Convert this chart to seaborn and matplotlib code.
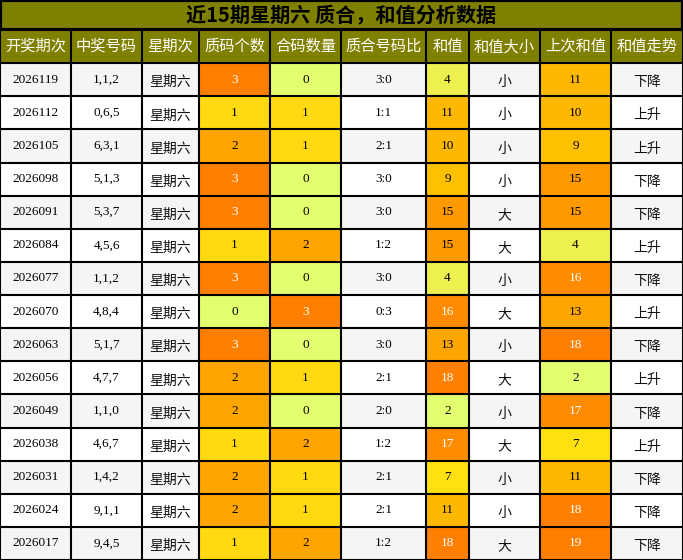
import numpy as np
import matplotlib
matplotlib.use("Agg")
import matplotlib.pyplot as plt
from matplotlib.colors import ListedColormap
import seaborn as sns

title = "近15期星期六 质合，和值分析数据"
headers = ["开奖期次", "中奖号码", "星期次", "质码个数", "合码数量", "质合号码比", "和值", "和值大小", "上次和值", "和值走势"]
periods = ["2026119", "2026112", "2026105", "2026098", "2026091", "2026084", "2026077", "2026070",
           "2026063", "2026056", "2026049", "2026038", "2026031", "2026024", "2026017"]
numbers = ["1,1,2", "0,6,5", "6,3,1", "5,1,3", "5,3,7", "4,5,6", "1,1,2", "4,8,4",
           "5,1,7", "4,7,7", "1,1,0", "4,6,7", "1,4,2", "9,1,1", "9,4,5"]
weekday = ["星期六"] * 15
prime_cnt = [3, 1, 2, 3, 3, 1, 3, 0, 3, 2, 2, 1, 2, 2, 1]
comp_cnt = [0, 1, 1, 0, 0, 2, 0, 3, 0, 1, 0, 2, 1, 1, 2]
ratio = ["3:0", "1:1", "2:1", "3:0", "3:0", "1:2", "3:0", "0:3", "3:0", "2:1", "2:0", "1:2", "2:1", "2:1", "1:2"]
sums = [4, 11, 10, 9, 15, 15, 4, 16, 13, 18, 2, 17, 7, 11, 18]
size = ["小", "小", "小", "小", "大", "大", "小", "大", "小", "大", "小", "大", "小", "小", "大"]
prev_sums = [11, 10, 9, 15, 15, 4, 16, 13, 18, 2, 17, 7, 11, 18, 19]
trend = ["下降", "上升", "上升", "下降", "下降", "上升", "下降", "上升", "下降", "上升", "下降", "上升", "下降", "下降", "下降"]

col_w = [71, 71, 57, 71, 71, 85, 43, 71, 71, 72]

# palette
palette = ["#808000", "#F5F5F5", "#FFFFFF", "#FF8000", "#FFA500", "#FFDA10", "#E2FF70",
           "#EEF050", "#FFE010", "#FFC000", "#FFB800", "#FF9900", "#FF8C00"]
cnt_idx = {3: 3, 2: 4, 1: 5, 0: 6}
def sum_idx(v):
    if v <= 2: return 6
    if v <= 5: return 7
    if v <= 7: return 8
    if v <= 9: return 9
    if v <= 12: return 10
    if v <= 14: return 4
    if v <= 15: return 11
    if v <= 17: return 12
    return 3

nrow = 16
codes = np.zeros((nrow, 10), dtype=int)
for r in range(15):
    bg = 1 if r % 2 == 0 else 2
    codes[r + 1, :] = bg
    codes[r + 1, 3] = cnt_idx[prime_cnt[r]]
    codes[r + 1, 4] = cnt_idx[comp_cnt[r]]
    codes[r + 1, 6] = sum_idx(sums[r])
    codes[r + 1, 8] = sum_idx(prev_sums[r])
wide = np.repeat(codes, col_w, axis=1)

fig = plt.figure(figsize=(6.83, 5.6), dpi=100)
ax = fig.add_axes([0, 0, 1, 530 / 560])
sns.heatmap(wide, cmap=ListedColormap(palette), vmin=-0.5, vmax=len(palette) - 0.5,
            cbar=False, ax=ax, xticklabels=False, yticklabels=False)
ax.set_xlim(0, 683); ax.set_ylim(nrow, 0)
edges = np.concatenate([[0], np.cumsum(col_w)])
for x in edges:
    ax.axvline(x, color="black", lw=1.5)
for y in range(nrow + 1):
    ax.axhline(y, color="black", lw=1.5)

cjk = ["Noto Sans CJK SC", "DejaVu Sans"]
serif = ["Liberation Serif", "DejaVu Serif"]
centers = (edges[:-1] + edges[1:]) / 2
for c, h in enumerate(headers):
    ax.text(centers[c], 0.5, h, ha="center", va="center", color="white", fontsize=11, family=cjk)
for r in range(15):
    y = r + 1.5
    vals = [periods[r], numbers[r], weekday[r], prime_cnt[r], comp_cnt[r], ratio[r],
            sums[r], size[r], prev_sums[r], trend[r]]
    for c, v in enumerate(vals):
        is_cjk = c in (2, 7, 9)
        col = "black"
        if c == 3 and v == 3: col = "white"
        if c == 4 and v == 3: col = "white"
        if c in (6, 8) and v >= 16: col = "white"
        ax.text(centers[c], y + (0.08 if is_cjk else 0), str(v), ha="center", va="center",
                color=col if not is_cjk else "#111111",
                fontsize=10 if is_cjk else 9.5, family=cjk if is_cjk else serif)

tax = fig.add_axes([0, 530 / 560, 1, 30 / 560])
tax.set_xlim(0, 1); tax.set_ylim(0, 1); tax.axis("off")
tax.add_patch(plt.Rectangle((0, 0), 1, 1, facecolor="#808000", edgecolor="black", lw=3))
tax.text(0.5, 0.47, title, ha="center", va="center", fontsize=14.5, fontweight="bold",
         color="black", family=["Noto Sans CJK SC", "DejaVu Sans"])

fig.savefig("out.png", dpi=100)
